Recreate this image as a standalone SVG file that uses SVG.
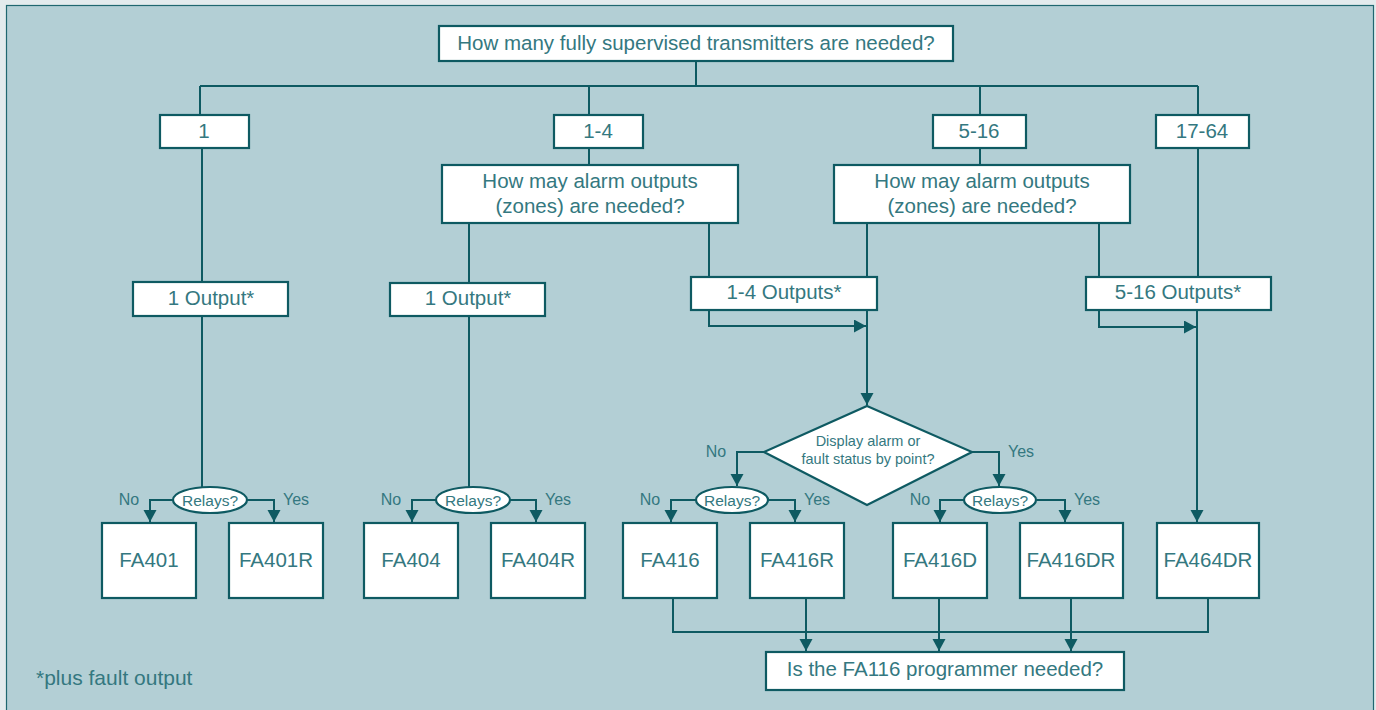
<svg xmlns="http://www.w3.org/2000/svg" width="1376" height="710" viewBox="0 0 1376 710">
<style>
.ln{fill:none;stroke:#0e5a62;stroke-width:2}
.ar{fill:none;stroke:#0e5a62;stroke-width:2;marker-end:url(#ah)}
.bx{fill:#ffffff;stroke:#0e5a62;stroke-width:2.2}
.t{font-family:"Liberation Sans",Arial,sans-serif;fill:#347880;text-anchor:middle}
.m{font-size:20.5px}
.s{font-size:14.5px}
.r{font-size:15.5px}
.l{font-size:16px}
</style>
<defs>
<marker id="ah" markerUnits="userSpaceOnUse" markerWidth="14" markerHeight="14" refX="12" refY="6.5" orient="auto">
<path d="M0,0 L12,6.5 L0,13 z" fill="#0e5a62"/>
</marker>
</defs>
<rect x="0" y="0" width="1376" height="710" fill="#e3ebed"/>
<rect x="6.5" y="5.5" width="1367" height="710" fill="#b3cfd5" stroke="#1f6770" stroke-width="1.2"/>

<g id="connectors">
<path class="ln" d="M696,61 V86 M200,86 H1198 M200,86 V115 M589,86 V115 M980,86 V115 M1198,86 V115"/>
<path class="ln" d="M202,148 V487"/>
<path class="ln" d="M589,148 V165 M980,148 V165"/>
<path class="ln" d="M469,223 V487"/>
<path class="ln" d="M709,223 V277 M867,223 V277 M1099,223 V277"/>
<path class="ln" d="M1198,148 V277"/>
<path class="ar" d="M709,310 V326 H866"/>
<path class="ar" d="M867,310 V405"/>
<path class="ar" d="M1099,310 V327 H1196"/>
<path class="ar" d="M1197,310 V522"/>
<path class="ar" d="M764,452 H737 V486"/>
<path class="ar" d="M972,452 H999 V486"/>
<path class="ar" d="M173,500 H150 V522"/>
<path class="ar" d="M247,500 H274 V522"/>
<path class="ar" d="M436,500 H412 V522"/>
<path class="ar" d="M510,500 H536 V522"/>
<path class="ar" d="M696,500 H671 V522"/>
<path class="ar" d="M768,500 H795 V522"/>
<path class="ar" d="M964,500 H940 V522"/>
<path class="ar" d="M1037,500 H1065 V522"/>
<path class="ln" d="M673,598 V632 H1208 V598"/>
<path class="ar" d="M806,598 V651"/>
<path class="ar" d="M939,598 V651"/>
<path class="ar" d="M1071,598 V651"/>
</g>

<g id="q-main"><rect class="bx" x="439" y="26" width="514" height="35"/><text class="t m" x="696" y="50">How many fully supervised transmitters are needed?</text></g>

<g id="n-1"><rect class="bx" x="160" y="115" width="89" height="33"/><text class="t m" x="204" y="138">1</text></g>
<g id="n-1-4"><rect class="bx" x="554" y="115" width="89" height="33"/><text class="t m" x="598" y="138">1-4</text></g>
<g id="n-5-16"><rect class="bx" x="933" y="115" width="93" height="33"/><text class="t m" x="979" y="138">5-16</text></g>
<g id="n-17-64"><rect class="bx" x="1156" y="115" width="93" height="33"/><text class="t m" x="1202" y="138">17-64</text></g>

<g id="q-zones-a"><rect class="bx" x="442" y="165" width="296" height="58"/><text class="t m" x="590" y="188">How may alarm outputs</text><text class="t m" x="590" y="213">(zones) are needed?</text></g>
<g id="q-zones-b"><rect class="bx" x="834" y="165" width="296" height="58"/><text class="t m" x="982" y="188">How may alarm outputs</text><text class="t m" x="982" y="213">(zones) are needed?</text></g>

<g id="o-1a"><rect class="bx" x="133" y="282" width="155" height="34"/><text class="t m" x="211" y="305">1 Output*</text></g>
<g id="o-1b"><rect class="bx" x="390" y="283" width="155" height="33"/><text class="t m" x="468" y="305">1 Output*</text></g>
<g id="o-1-4"><rect class="bx" x="691" y="277" width="186" height="33"/><text class="t m" x="784" y="299">1-4 Outputs*</text></g>
<g id="o-5-16"><rect class="bx" x="1086" y="277" width="185" height="33"/><text class="t m" x="1178" y="299">5-16 Outputs*</text></g>

<g id="d-display"><polygon class="bx" points="867,406 972,452 867,505 764,452"/><text class="t s" x="868" y="446">Display alarm or</text><text class="t s" x="868" y="464">fault status by point?</text></g>
<g id="lbl-d"><text class="t l" x="716" y="457">No</text><text class="t l" x="1021" y="457">Yes</text></g>

<g id="relays-1"><ellipse class="bx" cx="210" cy="500" rx="37" ry="13"/><text class="t r" x="210" y="506">Relays?</text><text class="t l" x="129" y="505">No</text><text class="t l" x="296" y="505">Yes</text></g>
<g id="relays-2"><ellipse class="bx" cx="473" cy="500" rx="37" ry="13"/><text class="t r" x="473" y="506">Relays?</text><text class="t l" x="391" y="505">No</text><text class="t l" x="558" y="505">Yes</text></g>
<g id="relays-3"><ellipse class="bx" cx="732" cy="500" rx="36" ry="13"/><text class="t r" x="732" y="506">Relays?</text><text class="t l" x="650" y="505">No</text><text class="t l" x="817" y="505">Yes</text></g>
<g id="relays-4"><ellipse class="bx" cx="1000" cy="500" rx="36" ry="13"/><text class="t r" x="1000" y="506">Relays?</text><text class="t l" x="920" y="505">No</text><text class="t l" x="1087" y="505">Yes</text></g>

<g id="FA401"><rect class="bx" x="102" y="523" width="94" height="75"/><text class="t m" x="149" y="567">FA401</text></g>
<g id="FA401R"><rect class="bx" x="229" y="523" width="94" height="75"/><text class="t m" x="276" y="567">FA401R</text></g>
<g id="FA404"><rect class="bx" x="364" y="523" width="94" height="75"/><text class="t m" x="411" y="567">FA404</text></g>
<g id="FA404R"><rect class="bx" x="491" y="523" width="94" height="75"/><text class="t m" x="538" y="567">FA404R</text></g>
<g id="FA416"><rect class="bx" x="623" y="523" width="94" height="75"/><text class="t m" x="670" y="567">FA416</text></g>
<g id="FA416R"><rect class="bx" x="750" y="523" width="94" height="75"/><text class="t m" x="797" y="567">FA416R</text></g>
<g id="FA416D"><rect class="bx" x="893" y="523" width="94" height="75"/><text class="t m" x="940" y="567">FA416D</text></g>
<g id="FA416DR"><rect class="bx" x="1020" y="523" width="103" height="75"/><text class="t m" x="1071" y="567">FA416DR</text></g>
<g id="FA464DR"><rect class="bx" x="1157" y="523" width="102" height="75"/><text class="t m" x="1208" y="567">FA464DR</text></g>

<g id="q-programmer"><rect class="bx" x="766" y="652" width="358" height="38"/><text class="t m" x="945" y="676">Is the FA116 programmer needed?</text></g>

<g id="footnote"><text class="t m" x="36" y="685" style="text-anchor:start;font-size:21px">*plus fault output</text></g>
</svg>
